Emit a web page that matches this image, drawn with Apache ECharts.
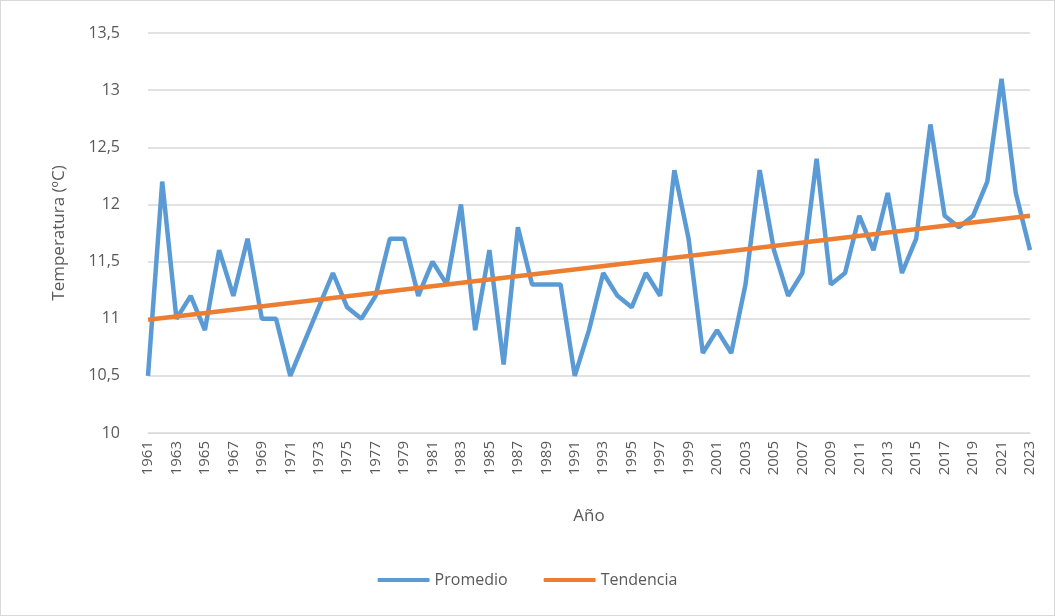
<!DOCTYPE html>
<html>
	<head>
		<meta charset="utf-8">
		<style>
			html, body { margin: 0; padding: 0; background: #fff; }
			#chart { width: 1055px; height: 616px; box-sizing: border-box; border: 1px solid #d9d9d9; }
		</style>
	</head>
	<body>
		<div id="chart"></div>
	</body>
	<script src="https://cdn.jsdelivr.net/npm/echarts@6/dist/echarts.min.js"></script>
	<script type="text/javascript">
		// años 1961-2023
		var years = [];
		for (var y = 1961; y <= 2023; y++) years.push(String(y));

		// temperatura media anual (ºC)
		var promedio = [
			10.5, 12.2, 11.0, 11.2, 10.9, 11.6, 11.2, 11.7, 11.0, 11.0,
			10.5, 10.8, 11.1, 11.4, 11.1, 11.0, 11.2, 11.7, 11.7, 11.2,
			11.5, 11.3, 12.0, 10.9, 11.6, 10.6, 11.8, 11.3, 11.3, 11.3,
			10.5, 10.9, 11.4, 11.2, 11.1, 11.4, 11.2, 12.3, 11.7, 10.7,
			10.9, 10.7, 11.3, 12.3, 11.6, 11.2, 11.4, 12.4, 11.3, 11.4,
			11.9, 11.6, 12.1, 11.4, 11.7, 12.7, 11.9, 11.8, 11.9, 12.2,
			13.1, 12.1, 11.6
		];

		// línea de tendencia (extremos)
		var tendencia = [['1961', 10.99], ['2023', 11.9]];

		var chart = echarts.init(document.getElementById('chart'));
		var txt = '#595959';
		var font = 'Open Sans';

		var option = {
			animation: false,
			grid: { left: 147, right: 24, top: 32, bottom: 182, containLabel: false },
			legend: {
				bottom: 22,
				left: 'center',
				itemGap: 36,
				itemWidth: 52,
				itemHeight: 4,
				icon: 'roundRect',
				textStyle: { color: txt, fontSize: 16, fontFamily: font },
				data: ['Promedio', 'Tendencia']
			},
			xAxis: {
				type: 'category',
				data: years,
				boundaryGap: false,
				name: 'Año',
				nameLocation: 'middle',
				nameGap: 75,
				nameTextStyle: { color: txt, fontSize: 17, fontFamily: font },
				axisLine: { lineStyle: { color: '#d9d9d9' } },
				axisTick: { show: false },
				axisLabel: { interval: 1, rotate: 90, color: txt, fontSize: 15, fontFamily: font, margin: 8 }
			},
			yAxis: {
				type: 'value',
				min: 10,
				max: 13.5,
				interval: 0.5,
				name: 'Temperatura (ºC)',
				nameLocation: 'middle',
				nameGap: 80,
				nameTextStyle: { color: txt, fontSize: 17, fontFamily: font },
				axisLine: { show: false },
				axisTick: { show: false },
				splitLine: { lineStyle: { color: '#d9d9d9', width: 1.5 } },
				axisLabel: {
					color: txt, fontSize: 16, fontFamily: font, margin: 28,
					formatter: function (v) { return String(v).replace('.', ','); }
				}
			},
			series: [
				{
					name: 'Promedio',
					type: 'line',
					data: promedio,
					symbol: 'none',
					itemStyle: { color: '#5b9bd5' },
					lineStyle: { color: '#5b9bd5', width: 4.5 }
				},
				{
					name: 'Tendencia',
					type: 'line',
					data: tendencia,
					symbol: 'none',
					itemStyle: { color: '#ed7d31' },
					lineStyle: { color: '#ed7d31', width: 4.5 }
				}
			]
		};

		chart.setOption(option);
	</script>
</html>
